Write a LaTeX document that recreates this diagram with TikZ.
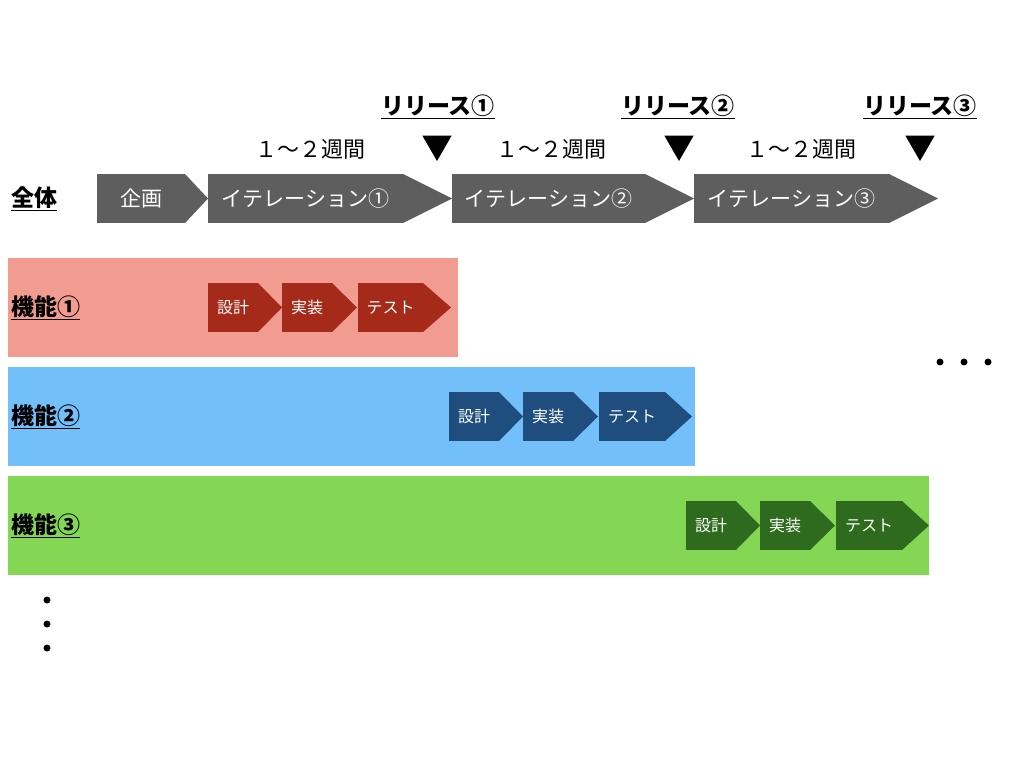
\documentclass[tikz,border=0pt]{standalone}
\usepackage{fontspec}
\setmainfont{Noto Sans CJK JP}
\usetikzlibrary{positioning,calc,shapes.geometric}
\definecolor{phasegray}{HTML}{5E5E5E}
\definecolor{bandred}{HTML}{F29B91}
\definecolor{taskred}{HTML}{A52A1A}
\definecolor{bandblue}{HTML}{73BFF9}
\definecolor{taskblue}{HTML}{1F4E7E}
\definecolor{bandgreen}{HTML}{83D754}
\definecolor{taskgreen}{HTML}{2F6B1E}
\newcommand{\ulbf}[1]{\underline{\textbf{#1}}}
\newcommand{\chevtip}[3]{\fill[#1] (#2.north east) -- ($(#2.east)+(#3,0)$) -- (#2.south east) -- cycle;}
\begin{document}
\begin{tikzpicture}[x=1pt,y=-1pt,
		phase/.style={fill=phasegray,text=white,minimum height=49pt,inner sep=0pt,outer sep=0pt,
			font=\fontsize{21}{21}\selectfont},
		task/.style={text=white,minimum height=49pt,minimum width=50pt,inner sep=0pt,outer sep=0pt,
			font=\fontsize{16}{16}\selectfont},
		band/.style={anchor=north west,minimum height=99pt,inner sep=0pt,outer sep=0pt},
		rowlabel/.style={anchor=west,inner sep=0pt,font=\fontsize{23}{23}\selectfont},
		rellabel/.style={inner sep=0pt,font=\fontsize{23}{23}\selectfont},
		relmarker/.style={regular polygon,regular polygon sides=3,shape border rotate=180,
			fill=black,inner sep=0pt,minimum size=34pt},
		spanlabel/.style={inner sep=0pt,font=\fontsize{22}{22}\selectfont},
		dot/.style={circle,fill=black,inner sep=0pt,minimum size=7pt}
		]
		\useasboundingbox (0,0) rectangle (1024,768);
		
		% feature bands
		\node[band, fill=bandred, minimum width=450pt](b1) at (8,258){};
		\node[band, fill=bandblue, minimum width=687pt](b2) at (8,367){};
		\node[band, fill=bandgreen, minimum width=921pt](b3) at (8,476){};
		
		% whole schedule
		\node[rowlabel](all) at (11,199){\ulbf{全体}};
		\node[phase, minimum width=88pt](kikaku) at (141,198.5){企画};
		\chevtip{phasegray}{kikaku}{23}
		\node[phase, minimum width=195pt, right=23pt of kikaku](iter1){イテレーション①};
		\chevtip{phasegray}{iter1}{49}
		\node[phase, minimum width=193pt, right=49pt of iter1](iter2){イテレーション②};
		\chevtip{phasegray}{iter2}{49}
		\node[phase, minimum width=195pt, right=49pt of iter2](iter3){イテレーション③};
		\chevtip{phasegray}{iter3}{49}
		
		\node[spanlabel](span1) at (310,149){１〜２週間};
		\node[spanlabel](span2) at (551,149){１〜２週間};
		\node[spanlabel](span3) at (801,149){１〜２週間};
		
		\node[relmarker](tri1) at (437,144){};
		\node[relmarker](tri2) at (679,144){};
		\node[relmarker](tri3) at (920,144){};
		\node[rellabel](rel1) at (438,107){\ulbf{リリース①}};
		\node[rellabel](rel2) at (678,107){\ulbf{リリース②}};
		\node[rellabel](rel3) at (920,107){\ulbf{リリース③}};
		
		% feature 1
		\node[rowlabel](f1) at (11,308){\ulbf{機能①}};
		\node[task, fill=taskred](d1) at (233,307.5){設計};
		\chevtip{taskred}{d1}{24}
		\node[task, fill=taskred, right=24pt of d1](m1){実装};
		\chevtip{taskred}{m1}{25}
		\node[task, fill=taskred, minimum width=65pt, right=26pt of m1](t1){テスト};
		\chevtip{taskred}{t1}{28}
		
		% feature 2
		\node[rowlabel](f2) at (11,417){\ulbf{機能②}};
		\node[task, fill=taskblue](d2) at (474,416.5){設計};
		\chevtip{taskblue}{d2}{24}
		\node[task, fill=taskblue, right=24pt of d2](m2){実装};
		\chevtip{taskblue}{m2}{25}
		\node[task, fill=taskblue, minimum width=66pt, right=26pt of m2](t2){テスト};
		\chevtip{taskblue}{t2}{27}
		
		% feature 3
		\node[rowlabel](f3) at (11,526){\ulbf{機能③}};
		\node[task, fill=taskgreen](d3) at (711,525.5){設計};
		\chevtip{taskgreen}{d3}{24}
		\node[task, fill=taskgreen, right=24pt of d3](m3){実装};
		\chevtip{taskgreen}{m3}{25}
		\node[task, fill=taskgreen, minimum width=66pt, right=26pt of m3](t3){テスト};
		\chevtip{taskgreen}{t3}{27}
		
		% more
		\node[dot](h1) at (940,362){};
		\node[dot](h2) at (964,362){};
		\node[dot](h3) at (988,362){};
		\node[dot](v1) at (47,600){};
		\node[dot](v2) at (47,624){};
		\node[dot](v3) at (47,648){};
	\end{tikzpicture}
\end{document}
